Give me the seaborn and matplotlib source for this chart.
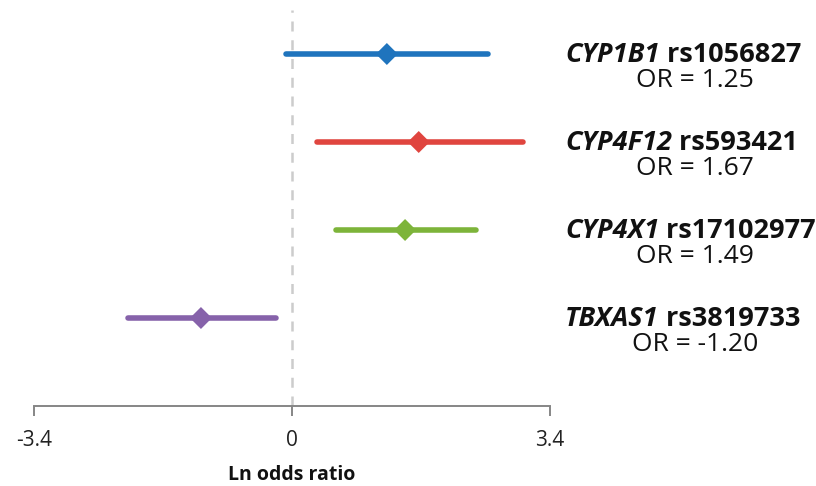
import matplotlib
matplotlib.use("Agg")
import matplotlib.pyplot as plt
import seaborn as sns
import pandas as pd

# values
genes = ["CYP1B1", "CYP4F12", "CYP4X1", "TBXAS1"]
snps = ["rs1056827", "rs593421", "rs17102977", "rs3819733"]
or_labels = ["1.25", "1.67", "1.49", "-1.20"]
estimate = [1.25, 1.67, 1.49, -1.20]
ci_low = [-0.08, 0.33, 0.58, -2.16]
ci_high = [2.58, 3.04, 2.42, -0.21]
rows = [4, 3, 2, 1]
colors = ["#1f74bd", "#e0453f", "#7db43a", "#8662aa"]
xticks = [-3.4, 0, 3.4]

sns.set_style("white")
plt.rcParams["font.family"] = ["Open Sans", "DejaVu Sans"]

fig = plt.figure(figsize=(8.16, 4.86), dpi=100)
ax = fig.add_axes([34 / 816, 1 - 406 / 486, 516 / 816, 396 / 486])

ci = pd.DataFrame({
    "gene": genes * 2,
    "x": ci_low + ci_high,
    "y": rows * 2,
})
pts = pd.DataFrame({"gene": genes, "x": estimate, "y": rows})
pal = dict(zip(genes, colors))

ax.axvline(0, color="#cccccc", lw=1.8, ls=(0, (4, 3.5)), zorder=0)
sns.lineplot(data=ci, x="x", y="y", hue="gene", units="gene", estimator=None,
             palette=pal, lw=4.0, solid_capstyle="round", legend=False, ax=ax,
             sort=False)
sns.scatterplot(data=pts, x="x", y="y", hue="gene", palette=pal, marker="D",
                s=125, linewidth=0, legend=False, ax=ax, zorder=3)

ax.set_xlim(-3.4, 3.4)
ax.set_ylim(0, 4.5)
ax.set_xticks(xticks)
ax.set_xticklabels(["-3.4", "0", "3.4"], fontsize=15, color="#222222")
ax.set_yticks([])
ax.set_ylabel("")
ax.set_xlabel("Ln odds ratio", fontsize=14, fontweight="bold", labelpad=10,
              color="#111111")
for side in ["top", "right", "left"]:
    ax.spines[side].set_visible(False)
ax.spines["bottom"].set_color("#868686")
ax.spines["bottom"].set_linewidth(1.4)
ax.tick_params(axis="x", direction="out", length=7, width=1.4,
               color="#868686", pad=10, bottom=True)

for g, s, o, r in zip(genes, snps, or_labels, rows):
    t = ax.annotate(g, xy=(565 / 816, r), xycoords=("figure fraction", "data"),
                    xytext=(0, -1), textcoords="offset points",
                    fontsize=19.5, fontweight="bold", fontstyle="italic",
                    ha="left", va="center", color="#111111",
                    annotation_clip=False)
    ax.annotate(" " + s, xy=(1, 0), xycoords=t, fontsize=19.5,
                fontweight="bold", ha="left", va="bottom", color="#111111",
                annotation_clip=False)
    ax.annotate("OR = " + o, xy=(695 / 816, r), xycoords=("figure fraction", "data"),
                xytext=(0, -19), textcoords="offset points", fontsize=19,
                ha="center", va="center", color="#111111",
                annotation_clip=False)

fig.savefig("out.png", dpi=100)
